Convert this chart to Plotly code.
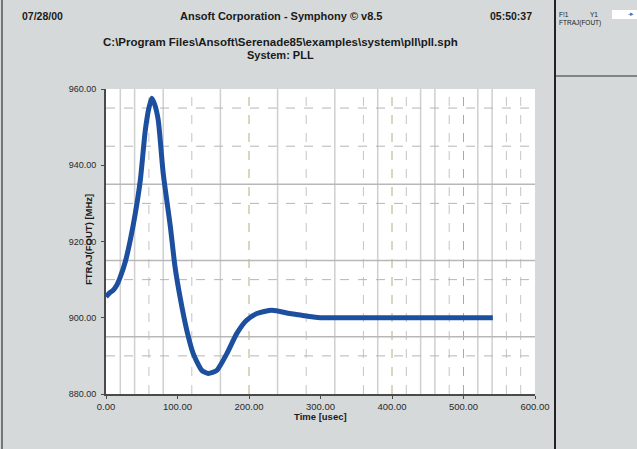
import plotly.graph_objects as go

# ---- data ----
time_us = [0, 5, 10, 15, 20, 27, 34, 41, 48, 55, 60, 64, 68, 73, 80, 90, 96.5, 103.5,
           113, 122, 134, 143, 155, 169, 183, 197, 211, 232, 257, 275, 290, 300,
           350, 400, 450, 500, 541]
ftraj_mhz = [905.5, 906.5, 907.2, 908.5, 910.7, 914.7, 920.4, 927.4, 936.1, 949.2, 955.0,
             957.6, 956.0, 951.9, 937.9, 923.9, 913.4, 905.5, 896.7, 890.6, 886.2, 885.4,
             886.2, 890.6, 895.9, 899.4, 901.1, 902.0, 901.1, 900.6, 900.2, 900.0,
             900.0, 900.0, 900.0, 900.0, 900.0]

x_ticks = [0, 100, 200, 300, 400, 500, 600]
y_ticks = [880, 900, 920, 940, 960]
x_tick_labels = ["0.00", "100.00", "200.00", "300.00", "400.00", "500.00", "600.00"]
y_tick_labels = ["880.00", "900.00", "920.00", "940.00", "960.00"]

# grid lines as seen in the plot
x_grid_solid = [20, 40, 80, 160, 240, 320, 380, 440, 460, 520, 540]
x_grid_dashed = [60, 120, 280, 360, 420, 480, 560, 580]
x_grid_olive = [200, 400, 500]
y_grid_solid = [935, 915, 895]
y_grid_dashed = [955, 945, 930, 910, 890]

date_text = "07/28/00"
title_text = "Ansoft Corporation - Symphony © v8.5"
time_text = "05:50:37"
path_text = "C:\\Program Files\\Ansoft\\Serenade85\\examples\\system\\pll\\pll.sph"
system_text = "System: PLL"
x_title = "Time [usec]"
y_title = "FTRAJ(FOUT) [MHz]"

FONT = "Liberation Sans, Arial, sans-serif"

fig = go.Figure()
fig.add_trace(go.Scatter(
    x=time_us, y=ftraj_mhz, mode="lines",
    line=dict(color="#1d4f9f", width=5, shape="spline", smoothing=0.6),
    showlegend=False, hoverinfo="skip"))

shapes = []
for xv in x_grid_solid:
    shapes.append(dict(type="line", xref="x", yref="paper", x0=xv, x1=xv, y0=0, y1=1,
                       line=dict(color="#cfcfcf", width=1.5), layer="below"))
for xv in x_grid_dashed:
    shapes.append(dict(type="line", xref="x", yref="paper", x0=xv, x1=xv, y0=0, y1=1,
                       line=dict(color="#c4c4c4", width=1, dash="dash"), layer="below"))
for xv in x_grid_olive:
    shapes.append(dict(type="line", xref="x", yref="paper", x0=xv, x1=xv, y0=0, y1=1,
                       line=dict(color="#b8aa80", width=1, dash="dash"), layer="below"))
for yv in y_grid_solid:
    shapes.append(dict(type="line", xref="paper", yref="y", x0=0, x1=1, y0=yv, y1=yv,
                       line=dict(color="#b8b8b8", width=1.5), layer="below"))
for yv in y_grid_dashed:
    shapes.append(dict(type="line", xref="paper", yref="y", x0=0, x1=1, y0=yv, y1=yv,
                       line=dict(color="#b5b5b5", width=1, dash="dash"), layer="below"))

L, R, T, B = 106, 102, 89, 55
W, H = 637, 449
pw, ph = W - L - R, H - T - B
def px_x(p):
    return (p - L) / pw
def px_y(p):
    return 1 - (p - T) / ph

shapes.append(dict(type="line", xref="paper", yref="paper", x0=px_x(555), x1=px_x(555),
                   y0=px_y(0), y1=px_y(449), line=dict(color="#222222", width=2)))
shapes.append(dict(type="line", xref="paper", yref="paper", x0=px_x(556), x1=px_x(637),
                   y0=px_y(76), y1=px_y(76), line=dict(color="#333333", width=1)))
shapes.append(dict(type="line", xref="paper", yref="paper", x0=px_x(2), x1=px_x(2),
                   y0=px_y(0), y1=px_y(449), line=dict(color="#555555", width=1.5)))
shapes.append(dict(type="rect", xref="paper", yref="paper", x0=px_x(612), x1=px_x(637),
                   y0=px_y(19), y1=px_y(10), line=dict(width=0), fillcolor="white"))

ann = []
def text(x, y, s, size=10, bold=True, anchor="center", color="#1a1a1a", angle=0):
    ann.append(dict(xref="paper", yref="paper", x=px_x(x), y=px_y(y),
                    text=("<b>%s</b>" % s) if bold else s,
                    showarrow=False, xanchor=anchor, yanchor="middle", textangle=angle,
                    font=dict(family=FONT, size=size, color=color)))

text(42, 16, date_text, size=10.5)
text(281, 16, title_text, size=11)
text(511, 16, time_text, size=10.5)
text(280, 42, path_text, size=11.5)
text(280, 55, system_text, size=11)
text(320, 416, x_title, size=9.5)
text(88, 240, y_title, size=9.5, angle=-90)
text(557, 15, "F!1", size=6.5, bold=False, anchor="left")
text(588, 15, "Y1", size=6.5, bold=False, anchor="left")
text(626, 14, "-▸", size=6.5, bold=False, anchor="left", color="#3b6fb8")
text(557, 23, "FTRAJ(FOUT)", size=6.5, bold=False, anchor="left")

fig.update_layout(
    width=W, height=H,
    margin=dict(l=L, r=R, t=T, b=B),
    paper_bgcolor="#d5d9d9",
    plot_bgcolor="white",
    shapes=shapes,
    annotations=ann,
    xaxis=dict(range=[0, 600], tickvals=x_ticks, ticktext=x_tick_labels, showgrid=False,
               zeroline=False, showline=True, linecolor="#4a4a4a", linewidth=2,
               ticks="outside", ticklen=3, tickcolor="#4a4a4a",
               tickfont=dict(family=FONT, size=9.5, color="#2a2a2a")),
    yaxis=dict(range=[880, 960], tickvals=y_ticks, ticktext=y_tick_labels, showgrid=False,
               zeroline=False, showline=True, linecolor="#4a4a4a", linewidth=2,
               ticks="outside", ticklen=3, tickcolor="#4a4a4a", ticklabelstandoff=3,
               tickfont=dict(family=FONT, size=9, color="#2a2a2a")),
)

fig.write_html("out.html", config={"displayModeBar": False},
               post_script="document.body.style.margin='0';document.body.style.padding='0';")
